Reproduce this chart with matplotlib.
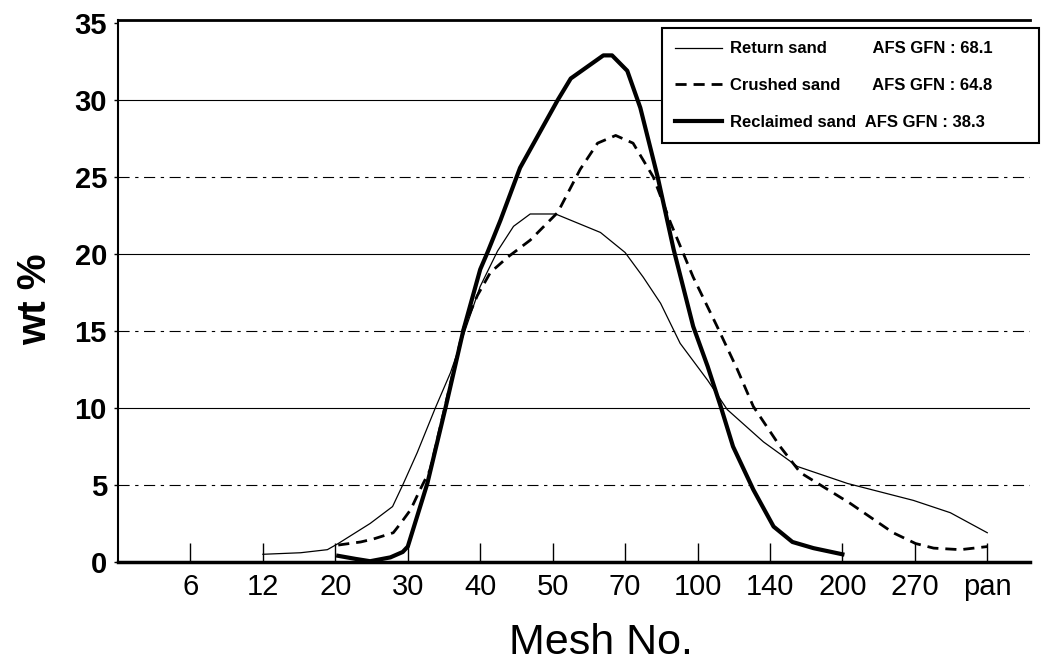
import matplotlib
matplotlib.use("Agg")
import matplotlib.pyplot as plt

# --- Data (x in sieve-category units, 0 = mesh 6 ... 11 = pan) ---
mesh_labels = ['6', '12', '20', '30', '40', '50', '70', '100', '140', '200', '270', 'pan']

return_x = [1.0, 1.52, 1.89, 2.04, 2.48, 2.79, 2.94, 3.13, 3.38, 3.59, 4.0, 4.24, 4.46,
            4.69, 5.04, 5.66, 6.0, 6.25, 6.49, 6.76, 7.14, 7.41, 7.91, 8.38, 9.07, 9.98,
            10.49, 11.0]
return_y = [0.5, 0.6, 0.8, 1.2, 2.5, 3.6, 5.1, 7.1, 10.0, 12.3, 17.9, 20.2, 21.8,
            22.6, 22.6, 21.4, 20.1, 18.5, 16.8, 14.2, 11.8, 9.9, 7.8, 6.2, 5.1, 4.0,
            3.2, 1.9]

crushed_x = [2.04, 2.35, 2.53, 2.8, 2.9, 3.04, 3.17, 3.31, 3.55, 3.77, 3.96, 4.14, 4.38,
             4.69, 5.07, 5.38, 5.62, 5.87, 6.11, 6.39, 6.63, 6.94, 7.27, 7.55, 7.77,
             8.14, 8.42, 9.11, 9.7, 10.01, 10.26, 10.63, 11.0]
crushed_y = [1.1, 1.3, 1.5, 1.9, 2.5, 3.4, 4.7, 6.0, 10.8, 15.2, 17.3, 18.8, 19.8,
             20.9, 22.7, 25.5, 27.2, 27.7, 27.2, 25.0, 22.0, 18.5, 15.3, 12.5, 10.1,
             7.5, 5.8, 3.8, 1.9, 1.2, 0.9, 0.8, 1.0]

reclaimed_x = [2.04, 2.28, 2.48, 2.76, 2.93, 3.0, 3.27, 3.52, 3.77, 4.0, 4.1, 4.28, 4.55,
               5.07, 5.25, 5.7, 5.82, 6.03, 6.21, 6.45, 6.67, 6.94, 7.14, 7.32, 7.49,
               7.77, 8.05, 8.31, 8.6, 9.0]
reclaimed_y = [0.4, 0.2, 0.05, 0.3, 0.65, 1.0, 5.1, 10.0, 15.1, 19.0, 20.1, 22.2, 25.6,
               30.0, 31.4, 32.9, 32.9, 31.9, 29.5, 25.0, 20.3, 15.3, 12.7, 10.1, 7.5,
               4.7, 2.3, 1.3, 0.9, 0.5]

series_labels = ['Return sand          AFS GFN : 68.1',
                 'Crushed sand       AFS GFN : 64.8',
                 'Reclaimed sand  AFS GFN : 38.3']

plt.rcParams['font.family'] = ['Liberation Sans', 'DejaVu Sans']

fig = plt.figure(figsize=(10.52, 6.68), dpi=100)
ax = fig.add_axes([0.1122, 0.1587, 0.8669, 0.8114])

# horizontal grid (10/20/30 solid, 5/15/25 broken as in the scan)
for yv in [5, 10, 15, 20, 25, 30]:
    if yv % 10 == 0:
        ax.axhline(yv, color='black', lw=0.8, zorder=1)
    else:
        ax.axhline(yv, color='black', lw=0.8, ls=(0, (10, 5, 3, 5)), zorder=1)

ax.plot(return_x, return_y, color='black', lw=0.9, label=series_labels[0], zorder=3)
ax.plot(crushed_x, crushed_y, color='black', lw=2.0, ls=(0, (4, 2.5)),
        label=series_labels[1], zorder=3)
ax.plot(reclaimed_x, reclaimed_y, color='black', lw=3.0, label=series_labels[2], zorder=4)

ax.set_xlim(-1.0, 11.59)
ax.set_ylim(0, 35.2)
ax.set_xticks(range(len(mesh_labels)))
ax.set_xticklabels(mesh_labels)
ax.set_yticks(range(0, 36, 5))

ax.tick_params(axis='x', direction='in', length=14, width=1, pad=8, labelsize=21)
ax.tick_params(axis='y', direction='out', length=3, width=1, pad=5, labelsize=21)
for t in ax.get_yticklabels():
    t.set_fontweight('bold')

ax.spines['right'].set_visible(False)
ax.spines['bottom'].set_linewidth(2.5)
ax.spines['left'].set_linewidth(1.5)
ax.spines['top'].set_linewidth(2.0)

ax.set_xlabel('Mesh No.', fontsize=31)
ax.xaxis.set_label_coords(0.53, -0.112)
ax.set_ylabel('wt %', fontsize=29, fontweight='bold')
ax.yaxis.set_label_coords(-0.07, 0.485)

leg = ax.legend(loc='upper left', bbox_to_anchor=(0.596, 0.773, 0.414, 0.212),
                mode='expand', frameon=True, fancybox=False, edgecolor='black',
                framealpha=1, prop={'size': 12, 'weight': 'bold'}, handlelength=2.8,
                handletextpad=0.5, labelspacing=1.3, borderpad=0.8, borderaxespad=0)
leg.get_frame().set_linewidth(1.5)
leg.set_zorder(5)

fig.savefig('out.png', dpi=100)
